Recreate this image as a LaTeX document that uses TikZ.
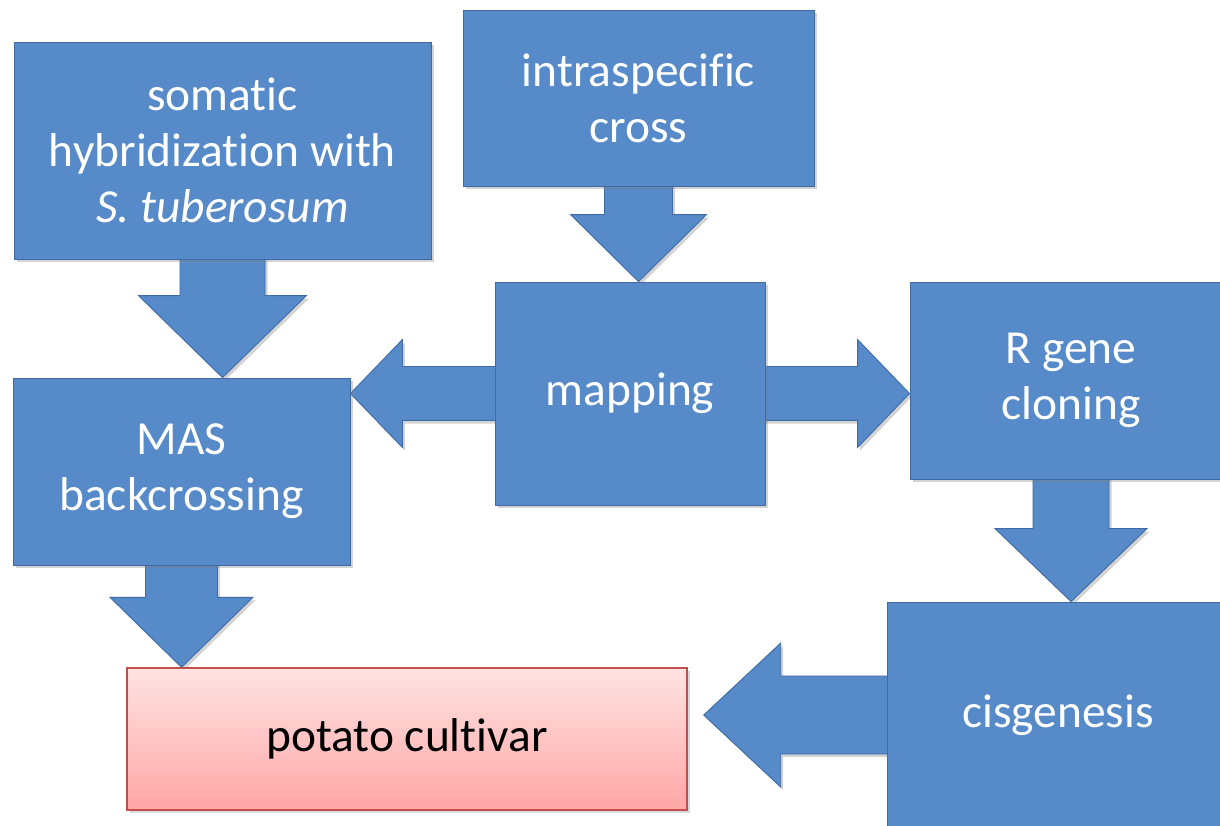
\documentclass[tikz,border=0pt]{standalone}
\usepackage{fontspec}
\setmainfont{Carlito}[Ligatures=NoCommon]
\usetikzlibrary{calc,shadows}

\definecolor{boxblue}{RGB}{86,138,200}
\definecolor{edgeblue}{RGB}{63,107,165}
\definecolor{pinktop}{RGB}{255,227,227}
\definecolor{pinkbot}{RGB}{255,166,166}
\definecolor{pinkedge}{RGB}{192,80,77}

\pgfdeclarelayer{background}
\pgfsetlayers{background,main}

% down arrow: from, to, stem half width, head half width, head length
\newcommand{\downarrowto}[5]{%
  \path[arrowbody] let \p1=(#1.center), \p2=(#2.north) in
    (\x1-#3,\y1) -- (\x1-#3,\y2+#5) -- (\x1-#4,\y2+#5) -- (\x1,\y2)
    -- (\x1+#4,\y2+#5) -- (\x1+#3,\y2+#5) -- (\x1+#3,\y1) -- cycle;}
% left arrow: from, to, stem half width, head half width, head length, gap
\newcommand{\leftarrowto}[6]{%
  \path[arrowbody] let \p1=(#1.center), \p2=(#2.east) in
    (\x1,\y1-#3) -- (\x2+#6+#5,\y1-#3) -- (\x2+#6+#5,\y1-#4) -- (\x2+#6,\y1)
    -- (\x2+#6+#5,\y1+#4) -- (\x2+#6+#5,\y1+#3) -- (\x1,\y1+#3) -- cycle;}

\begin{document}
\begin{tikzpicture}
            [stage/.style={rectangle, fill=boxblue, draw=edgeblue, line width=0.5pt, text=white,
                align=center, inner sep=0pt, font=\fontsize{27}{32}\selectfont,
                drop shadow={opacity=0.35, shadow xshift=0.5mm, shadow yshift=-0.6mm}},
             arrowbody/.style={fill=boxblue, draw=edgeblue, line width=0.5pt,
                drop shadow={opacity=0.35, shadow xshift=0.5mm, shadow yshift=-0.6mm}},
             result/.style={rectangle, top color=pinktop, bottom color=pinkbot, draw=pinkedge,
                line width=0.8pt, text=black, inner sep=0pt, font=\fontsize{27}{32}\selectfont,
                drop shadow={opacity=0.3, shadow xshift=0.5mm, shadow yshift=-0.6mm}}]
            \useasboundingbox (0, 0) rectangle (24.4, -16.5);

            \node[stage, minimum width=8.34cm, minimum height=4.34cm] (somatic) at (4.45, -3.01)
                {somatic\\hybridization with\\\textit{S. tuberosum}};
            \node[stage, minimum width=7.02cm, minimum height=3.52cm] (cross) at (12.77, -1.96)
                {intraspecific\\cross};
            \node[stage, minimum width=5.4cm, minimum height=4.46cm] (mapping) at (12.6, -7.87) {mapping};
            \node[stage, minimum width=6.74cm, minimum height=3.74cm] (mas) at (3.63, -9.43)
                {MAS\\backcrossing};
            \node[stage, minimum width=6.44cm, minimum height=3.94cm] (rgene) at (21.42, -7.61)
                {R gene\\cloning};
            \node[stage, minimum width=6.84cm, minimum height=4.52cm] (cis) at (21.16, -14.3) {cisgenesis};
            \node[result, minimum width=11.2cm, minimum height=2.84cm] (cultivar) at (8.14, -14.78)
                {potato cultivar};

            \begin{pgfonlayer}{background}
                \downarrowto{somatic}{mas}{0.85cm}{1.68cm}{1.64cm}
                \downarrowto{cross}{mapping}{0.68cm}{1.36cm}{1.34cm}
                \downarrowto{mas}{cultivar}{0.72cm}{1.43cm}{1.4cm}
                \downarrowto{rgene}{cis}{0.76cm}{1.52cm}{1.46cm}
                \leftarrowto{cis}{cultivar}{0.78cm}{1.44cm}{1.54cm}{0.32cm}
                % double arrow out of mapping
                \path[arrowbody] let \p1=(mas.east), \p2=(rgene.west), \p3=(mapping.center) in
                    (\x1,\y3) -- (\x1+1.04cm,\y3+1.08cm) -- (\x1+1.04cm,\y3+0.54cm)
                    -- (\x2-1.04cm,\y3+0.54cm) -- (\x2-1.04cm,\y3+1.08cm) -- (\x2,\y3)
                    -- (\x2-1.04cm,\y3-1.08cm) -- (\x2-1.04cm,\y3-0.54cm)
                    -- (\x1+1.04cm,\y3-0.54cm) -- (\x1+1.04cm,\y3-1.08cm) -- cycle;
            \end{pgfonlayer}
        \end{tikzpicture}
\end{document}
